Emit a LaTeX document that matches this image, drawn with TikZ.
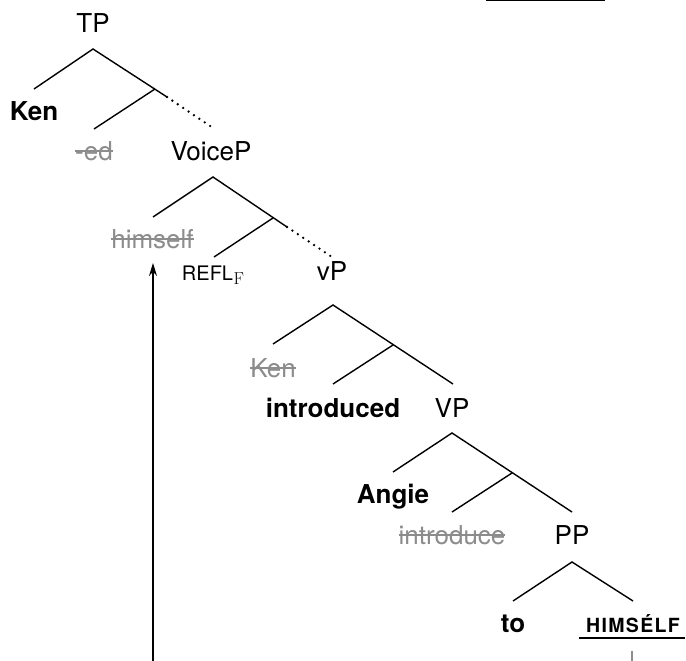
\documentclass[tikz,border=0pt]{standalone}
\usepackage[no-math]{fontspec}
\setmainfont{TeX Gyre Heros}
\usetikzlibrary{arrows.meta}
\definecolor{strikegray}{HTML}{8C8C8C}
\newcommand\strk[1]{\setbox0\hbox{#1}\rlap{\rule[0.3em]{\wd0}{1.8pt}}\box0}
\tikzset{
  lab/.style={anchor=base, inner sep=0pt, font=\fontsize{26}{30}\selectfont},
  boldlab/.style={lab, font=\fontsize{26}{30}\selectfont\bfseries},
  del/.style={lab, text=strikegray},
  branch/.style={line width=1.4pt},
  dots/.style={line width=2.6pt, line cap=round, dash pattern=on 0pt off 6.5pt},
}
\begin{document}
\begin{tikzpicture}[x=1pt,y=-1pt]
\useasboundingbox (0,0) rectangle (686,661);
% labels
\node[lab] (TP) at (93,33) {TP};
\node[boldlab] (Ken) at (34,121) {Ken};
\node[del] (ed) at (94,160) {\strk{-ed}};
\node[lab] (VoiceP) at (211,160) {VoiceP};
\node[del] (himself) at (152.5,248) {\strk{himself}};
\node[lab, font=\fontsize{20}{22}\selectfont] (REFL) at (213,280) {REFL\kern0.5pt\raisebox{-4pt}{\fontsize{17}{19}\selectfont$\mathrm{F}$}};
\node[lab] (vP) at (332,280) {vP};
\node[del] (Ken2) at (273,377) {\strk{Ken}};
\node[boldlab] (introduced) at (333,417) {introduced};
\node[lab] (VP) at (452,417) {VP};
\node[boldlab] (Angie) at (393,503) {Angie};
\node[del] (introduce) at (452,544) {\strk{introduce}};
\node[lab] (PP) at (572,544) {PP};
\node[boldlab] (to) at (513,632) {to};
\node[lab, font=\fontsize{19.5}{22}\selectfont\bfseries\addfontfeature{LetterSpace=7}] (HIMSELF) at (633,632) {HIMSÉLF};
% structural coordinates
\coordinate (a1) at (93,49);   \coordinate (l1) at (34,89);
\coordinate (m1) at (155,89);  \coordinate (s1) at (167,97);
\coordinate (d1) at (213,128); \coordinate (e1) at (94,129);
\coordinate (a2) at (213,177); \coordinate (l2) at (153,217);
\coordinate (m2) at (273,218); \coordinate (s2) at (287,227);
\coordinate (d2) at (332,257); \coordinate (e2) at (214,257);
\coordinate (a3) at (333,305); \coordinate (l3) at (273,344);
\coordinate (m3) at (393,345); \coordinate (r3) at (453,384);
\coordinate (e3) at (333,384);
\coordinate (a4) at (452,433); \coordinate (l4) at (393,472);
\coordinate (m4) at (512,473); \coordinate (r4) at (572,512);
\coordinate (e4) at (452,512);
\coordinate (a5) at (572,562); \coordinate (l5) at (513,601);
\coordinate (r5) at (633,601);
% branches
\draw[branch] (l1) -- (a1) -- (s1);
\draw[branch] (m1) -- (e1);
\draw[dots] (s1) -- (d1);
\draw[branch] (l2) -- (a2) -- (s2);
\draw[branch] (m2) -- (e2);
\draw[dots] (s2) -- (d2);
\draw[branch] (l3) -- (a3) -- (r3);
\draw[branch] (m3) -- (e3);
\draw[branch] (l4) -- (a4) -- (r4);
\draw[branch] (m4) -- (e4);
\draw[branch] (l5) -- (a5) -- (r5);
% underline and marks
\coordinate (u1) at (579,638); \coordinate (u2) at (685,638);
\draw[line width=2.6pt] (u1) -- (u2);
\coordinate (t1) at (632,651); \coordinate (t2) at (632,661);
\draw[strikegray, line width=1.2pt] (t1) -- (t2);
\coordinate (top1) at (486,0.5); \coordinate (top2) at (605,0.5);
\draw[line width=1.6pt] (top1) -- (top2);
% movement arrow
\coordinate (arrowfoot) at (153,661);
\coordinate (arrowtip) at (153,263);
\draw[line width=1.4pt, -{Stealth[length=13pt,width=8pt]}] (arrowfoot) -- (arrowtip);
\end{tikzpicture}
\end{document}
